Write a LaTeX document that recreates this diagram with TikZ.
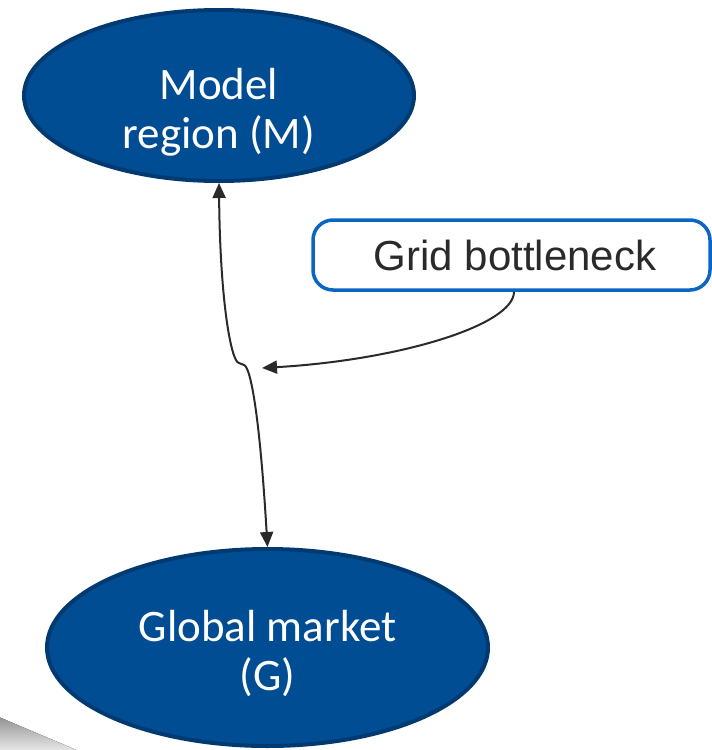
\documentclass[tikz,border=0pt]{standalone}
\usepackage{fontspec}
\setmainfont{Carlito}
\newfontfamily\boxfont{Liberation Sans}
\usetikzlibrary{shapes.geometric,arrows.meta}

\definecolor{regionfill}{RGB}{0,77,147}
\definecolor{regionedge}{RGB}{0,58,112}
\definecolor{calloutedge}{RGB}{11,102,195}
\definecolor{inkdark}{RGB}{42,42,44}
\definecolor{shade}{RGB}{241,241,241}

\tikzset{
  region/.style={ellipse, draw=regionedge, fill=regionfill, line width=4pt, inner sep=0pt},
  regionlabel/.style={text=white, font=\fontsize{45}{49}\selectfont, align=center, inner sep=0pt},
  callout/.style={rectangle, rounded corners=20pt, draw=calloutedge, fill=white, line width=3.5pt,
    minimum width=397pt, minimum height=70pt, inner sep=0pt,
    font=\boxfont\fontsize{42}{46}\selectfont, text=inkdark},
  link/.style={draw=inkdark, line width=2pt},
  head/.tip={Triangle[length=15pt,width=13pt]},
}

\begin{document}
\begin{tikzpicture}[x=1pt,y=-1pt]
  \useasboundingbox (0,0) rectangle (712,750);

  % faint wedge in the lower left corner
  \begin{scope}
    \clip (0,0) rectangle (712,750);
    \fill[shade] (-20,709) -- (100,760) -- (-20,760) -- cycle;
  \end{scope}

  % the two regions
  \node[region, minimum width=390pt, minimum height=171pt] (M) at (219,95.5) {};
  \node[regionlabel] (Mtext) at (219,112) {Model\\region (M)};

  \node[region, minimum width=441pt, minimum height=197pt] (G) at (267.5,647.5) {};
  \node[regionlabel] (Gtext) at (267.5,653) {Global market\\(G)};

  % the constraint on the link
  \node[callout] (B) at (511.5,255) {\hspace*{7pt}Grid bottleneck};

  % exchange between the regions, with a small step where the bottleneck acts
  \coordinate (k1) at (239,363);
  \coordinate (k2) at (244,365);
  \draw[link, head-head]
    (M.south) .. controls (220,300) and (231,362) .. (k1) -- (k2)
              .. controls (251,367) and (260,420) .. (G.north);

  \coordinate (hit) at (262,368);
  \draw[link, -head]
    ([xshift=2.5pt]B.south) .. controls (514,325) and (400,360) .. (hit);
\end{tikzpicture}
\end{document}
